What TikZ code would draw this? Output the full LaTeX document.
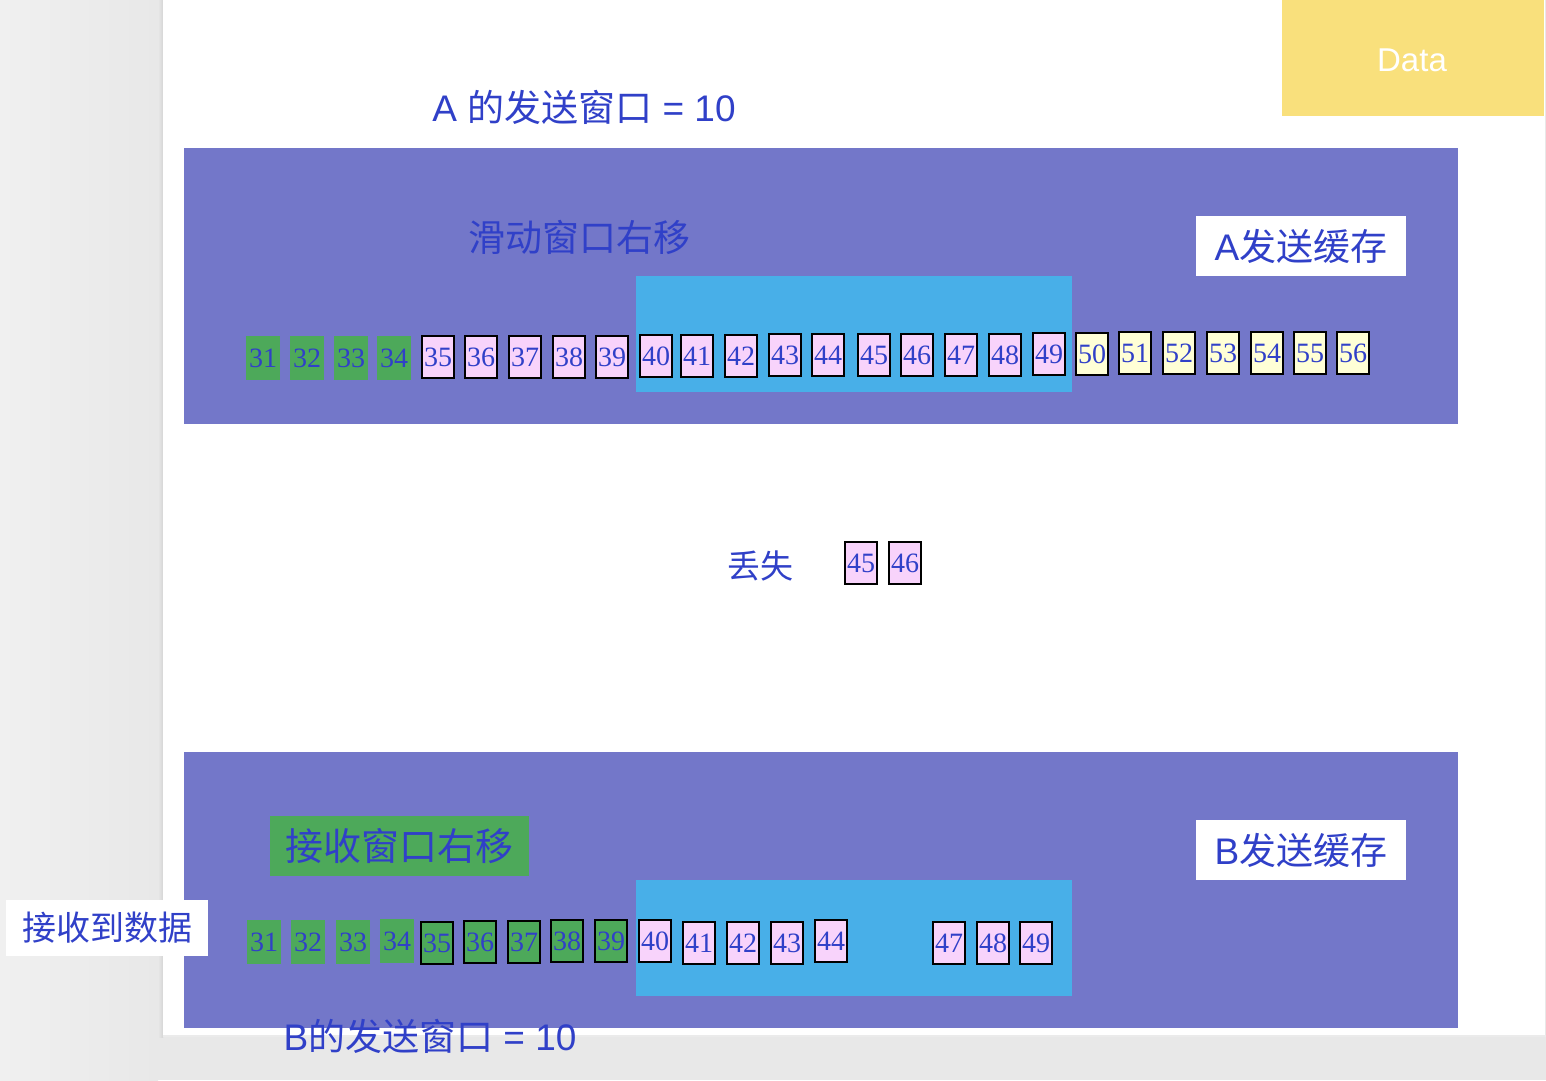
\documentclass[tikz,border=0pt]{standalone}
\usepackage{fontspec}
\setmainfont{Liberation Serif}
\newfontfamily\cjk{Noto Sans CJK SC}
\newfontfamily\hv{Liberation Sans}
\definecolor{bggray}{HTML}{E8E8E8}
\definecolor{bglight}{HTML}{F0F0F0}
\definecolor{panelpurple}{HTML}{7377C9}
\definecolor{winblue}{HTML}{48AFE8}
\definecolor{cellgreen}{HTML}{4DA95A}
\definecolor{cellpink}{HTML}{F8D3FB}
\definecolor{cellyellow}{HTML}{FFFFD6}
\definecolor{txtblue}{HTML}{3040C8}
\definecolor{datayellow}{HTML}{F9E07C}
\tikzset{
  panel/.style={fill=panelpurple, inner sep=0, minimum width=1274, minimum height=276},
  winbox/.style={fill=winblue, inner sep=0, minimum width=436, minimum height=116},
  cellbase/.style={inner sep=0, text=txtblue, font=\fontsize{28}{28}\selectfont},
  greencell/.style={cellbase, fill=cellgreen, minimum width=34, minimum height=44},
  greenboxed/.style={cellbase, fill=cellgreen, draw=black, line width=2, minimum width=32, minimum height=42},
  pinkcell/.style={cellbase, fill=cellpink, draw=black, line width=2, minimum width=32, minimum height=42},
  yellowcell/.style={cellbase, fill=cellyellow, draw=black, line width=2, minimum width=32, minimum height=42},
  cjklabel/.style={inner sep=0, text=txtblue},
  whitebox/.style={fill=white, inner sep=0, text=txtblue},
}
\begin{document}
\begin{tikzpicture}[x=1pt,y=-1pt]
\useasboundingbox (0,0) rectangle (1546,1080);
\fill[bggray] (0,0) rectangle (1546,1080);
\shade[left color=bglight, right color=bggray] (0,0) rectangle (158,1080);
\shade[left color=bggray, right color=bggray!92!black] (158,0) rectangle (163,1037);
\fill[black!8] (163,1035) rectangle (1546,1037);
\fill[white] (163,0) rectangle (1545,1035);

% panels
\node[panel] (topPanel) at (821,286) {};
\node[winbox] (topWin) at (854,334) {};
\node[panel] (botPanel) at (821,890) {};
\node[winbox] (botWin) at (854,938) {};

% Data box
\node[fill=datayellow, inner sep=0, minimum width=262, minimum height=116] (dataBox) at (1413,58) {};
\node[text=white, inner sep=0, font=\hv\fontsize{33}{33}\selectfont] (dataTxt) at (1412,60) {Data};

% labels
\node[cjklabel, font=\cjk\fontsize{37}{37}\selectfont] (titleA) at (584,107) {{\hv A }的发送窗口{\hv\ = 10}};
\node[cjklabel, font=\cjk\fontsize{37}{37}\selectfont] (slideTop) at (579,237) {滑动窗口右移};
\node[whitebox, minimum width=210, minimum height=60, font=\cjk\fontsize{37}{37}\selectfont] (bufA) at (1301,246) {{\hv A}发送缓存};
\node[cjklabel, font=\cjk\fontsize{33}{33}\selectfont] (lostLbl) at (760,566) {丢失};
\node[fill=cellgreen, inner sep=0, text=txtblue, minimum width=259, minimum height=60, font=\cjk\fontsize{38}{38}\selectfont] (recvShift) at (399.5,846) {接收窗口右移};
\node[whitebox, minimum width=210, minimum height=60, font=\cjk\fontsize{37}{37}\selectfont] (bufB) at (1301,850) {{\hv B}发送缓存};
\node[whitebox, minimum width=202, minimum height=56, font=\cjk\fontsize{34}{34}\selectfont] (recvData) at (107,928) {接收到数据};
\node[cjklabel, font=\cjk\fontsize{37}{37}\selectfont] (titleB) at (430,1036) {{\hv B}的发送窗口{\hv\ = 10}};

% top row
\foreach \n/\x/\y in {31/263/358, 32/307/358, 33/351/358, 34/394/358}
  \node[greencell] (t\n) at (\x,\y) {\n};
\foreach \n/\x/\y in {35/438/357, 36/481/357, 37/525/357, 38/569/357, 39/612/357, 40/656/356, 41/697/356, 42/741/356, 43/785/355, 44/828/355, 45/874/355, 46/917/355, 47/961/355, 48/1005/355, 49/1049/354}
  \node[pinkcell] (t\n) at (\x,\y) {\n};
\foreach \n/\x/\y in {50/1092/354, 51/1135/353, 52/1179/353, 53/1223/353, 54/1267/353, 55/1310/353, 56/1353/353}
  \node[yellowcell] (t\n) at (\x,\y) {\n};

% lost segments
\foreach \n/\x/\y in {45/861/563, 46/905/563}
  \node[pinkcell] (l\n) at (\x,\y) {\n};

% bottom row
\foreach \n/\x/\y in {31/264/942, 32/308/942, 33/353/942, 34/397/941}
  \node[greencell] (b\n) at (\x,\y) {\n};
\foreach \n/\x/\y in {35/437/943, 36/480/942, 37/524/942, 38/567/941, 39/611/941}
  \node[greenboxed] (b\n) at (\x,\y) {\n};
\foreach \n/\x/\y in {40/655/941, 41/699/943, 42/743/943, 43/787/943, 44/831/941, 47/949/943, 48/993/943, 49/1036/943}
  \node[pinkcell] (b\n) at (\x,\y) {\n};
\end{tikzpicture}
\end{document}
